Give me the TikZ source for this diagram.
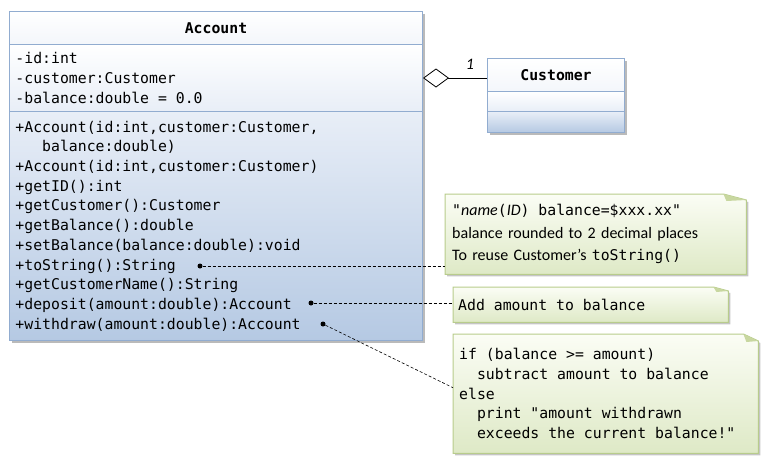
\documentclass[tikz,border=0pt]{standalone}
\usepackage{fontspec}
\setmainfont{Carlito}
\setmonofont{DejaVu Sans Mono}
\usetikzlibrary{arrows.meta,shadows,backgrounds}

\definecolor{umlline}{RGB}{145,172,208}
\definecolor{umltop}{RGB}{232,238,247}
\definecolor{umlbot}{RGB}{181,201,227}
\definecolor{notedraw}{RGB}{184,204,140}
\definecolor{notetop}{RGB}{251,253,245}
\definecolor{notebot}{RGB}{222,233,198}
\definecolor{notecorner}{RGB}{200,215,160}

\newcommand\umlfont{\ttfamily\fontsize{14.8}{19.7}\selectfont\spaceskip=.602em\relax}
\newcommand\notetext{\fontsize{16}{22.5}\selectfont}
\newcommand\notemono{\ttfamily\fontsize{14.8}{22.5}\selectfont\spaceskip=.602em\relax}
% outline of a note with its folded corner
\newcommand\notefold[3]{%
\draw[noteframe] (#1.north west) -- ([xshift=-#2]#1.north east)
  -- ([yshift=-#3]#1.north east) -- (#1.south east) -- (#1.south west) -- cycle;
\fill[notecorner] ([xshift=-#2]#1.north east) -- ([yshift=-#3]#1.north east)
  -- ([xshift=-#2+3pt,yshift=-#3-1pt]#1.north east) -- cycle;}

\tikzset{
umlbox/.style={draw=umlline, line width=1pt, anchor=north west,
  inner xsep=6pt, inner ysep=0pt, font=\umlfont,
  drop shadow={shadow xshift=2pt, shadow yshift=-2pt, fill=black!45, opacity=.6}},
umltitle/.style={umlbox, top color=white, bottom color=umltop!50},
umlattr/.style={umlbox, top color=white, bottom color=umltop},
umlops/.style={umlbox, top color=umltop, bottom color=umlbot},
notebox/.style={anchor=north west, inner ysep=0pt, align=left},
noteframe/.style={draw=notedraw, line width=1pt, top color=notetop, bottom color=notebot,
  drop shadow={shadow xshift=2pt, shadow yshift=-2pt, fill=black!45, opacity=.5}},
dot/.style={circle, fill=black, inner sep=0pt, minimum size=5pt},
noteline/.style={draw=black, line width=.6pt, dash pattern=on 3pt off 2pt},
assoc/.style={draw=black, line width=.8pt, -{Diamond[open, fill=white, length=26pt, width=19pt]}}
}

\begin{document}
\begin{tikzpicture}[x=1pt,y=-1pt]
\useasboundingbox (0,0) rectangle (772,469);

% Account class
\node (acctTitle) [umltitle, minimum width=413pt, minimum height=33pt] at (9,11) {\bfseries Account};
\node (acctAttr) [umlattr, minimum width=413pt, minimum height=67pt, text width=401pt, align=left] at (9,44)
{\umlfont -id:int\\
-customer:Customer\\
-balance:double = 0.0};
\node (acctOps) [umlops, minimum width=413pt, minimum height=229pt, text width=401pt, align=left] at (9,111)
{\umlfont +Account(id:int,customer:Customer,\\
\hphantom{xxx}balance:double)\\
+Account(id:int,customer:Customer)\\
+getID():int\\
+getCustomer():Customer\\
+getBalance():double\\
+setBalance(balance:double):void\\
+toString():String\\
+getCustomerName():String\\
+deposit(amount:double):Account\\
+withdraw(amount:double):Account};

% Customer class
\node (custTitle) [umltitle, minimum width=137pt, minimum height=33pt] at (487,58) {\bfseries Customer};
\node (custAttr) [umlattr, minimum width=137pt, minimum height=20pt] at (487,91) {};
\node (custOps) [umlops, minimum width=137pt, minimum height=21pt] at (487,111) {};

\draw[assoc] (acctAttr.east -| custTitle.west) -- (acctAttr.east);
\node (multCust) [font=\itshape\fontsize{16}{16}\selectfont] at (470,64) {1};

% notes
\node (note1) [notebox, font=\notetext, minimum width=301pt, minimum height=80pt,
  inner xsep=7pt, text width=287pt] at (445,194)
{{\notemono "}\textit{name}{\notemono (}\textit{ID}{\notemono ) balance=\$xxx.xx"}\\
balance rounded to 2 decimal places\\
To reuse Customer’s {\notemono toString()}};
\node (note2) [notebox, font=\notemono, minimum width=275pt, minimum height=35pt,
  inner xsep=5pt, text width=265pt] at (453,287) {\notemono Add amount to balance};
\node (note3) [notebox, font=\umlfont, minimum width=305pt, minimum height=119pt,
  inner xsep=6pt, text width=293pt] at (453,334)
{\umlfont if (balance >= amount)\\
\hphantom{xx}subtract amount to balance\\
else\\
\hphantom{xx}print "amount withdrawn\\
\hphantom{xx}exceeds the current balance!"};

\begin{scope}[on background layer]
\notefold{note1}{23pt}{6pt}
\notefold{note2}{15pt}{4pt}
\notefold{note3}{15pt}{7pt}
\end{scope}

% dots and dashed connectors
\node (dotStr) [dot] at (200,266) {};
\node (dotDep) [dot] at (311,303) {};
\node (dotDraw) [dot] at (323,324) {};
\draw[noteline] (dotStr) -- (dotStr -| note1.west);
\draw[noteline] (dotDep) -- (dotDep -| note2.west);
\draw[noteline] (dotDraw) -- ([yshift=6pt]note3.west);
\end{tikzpicture}
\end{document}
